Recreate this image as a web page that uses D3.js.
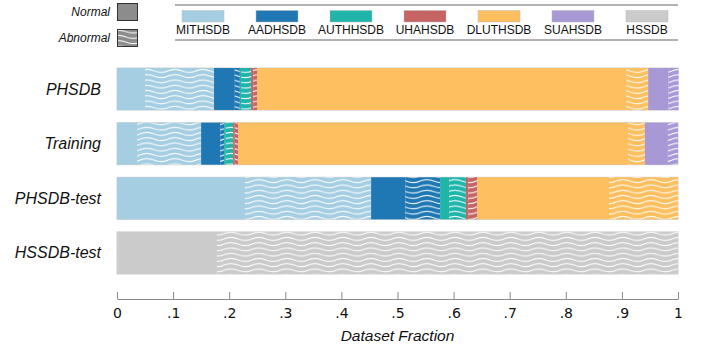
<!DOCTYPE html>
<html>
<head>
<meta charset="utf-8">
<script src="https://cdn.jsdelivr.net/npm/d3@7"></script>
<style>
  body { margin: 0; background: #fff; }
  svg { display: block; }
</style>
</head>
<body>
<div id="chart"></div>
<script>
// datasets (rows) and arrhythmia source classes (legend order)
const categories = ["PHSDB", "Training", "PHSDB-test", "HSSDB-test"];
const classes = ["MITHSDB", "AADHSDB", "AUTHHSDB", "UHAHSDB", "DLUTHSDB", "SUAHSDB", "HSSDB"];
const classColors = ["#a6cee3", "#1f78b4", "#1fb5a9", "#c66464", "#fdbf5f", "#a899d6", "#cbcbcb"];

// fraction of each row per class, split into normal / abnormal
const normalFrac = [
  [0.050, 0.037, 0.002, 0.004, 0.658, 0.036, 0],
  [0.036, 0.034, 0.003, 0.003, 0.695, 0.041, 0],
  [0.228, 0.061, 0.016, 0.004, 0.235, 0, 0],
  [0, 0, 0, 0, 0, 0, 0.178]
];
const abnormalFrac = [
  [0.123, 0.009, 0.018, 0.007, 0.039, 0.018, 0],
  [0.114, 0.007, 0.013, 0.006, 0.030, 0.018, 0],
  [0.225, 0.062, 0.030, 0.016, 0.123, 0, 0],
  [0, 0, 0, 0, 0, 0, 0.822]
];
const xTicks = [0, 0.1, 0.2, 0.3, 0.4, 0.5, 0.6, 0.7, 0.8, 0.9, 1];

const width = 709, height = 349;
const margin = {left: 117, right: 31, top: 68, bottom: 50};
const sans = "'Liberation Sans', Arial, sans-serif";

const svg = d3.select("#chart").append("svg")
  .attr("width", width)
  .attr("height", height)
  .attr("viewBox", [0, 0, width, height]);

const defs = svg.append("defs");
const waveW = 28, waveH = 5.25;
function wavePattern(id, fill) {
  const p = defs.append("pattern")
    .attr("id", id)
    .attr("patternUnits", "userSpaceOnUse")
    .attr("width", waveW)
    .attr("height", waveH);
  p.append("rect").attr("width", waveW).attr("height", waveH).attr("fill", fill);
  const y = waveH / 2, c = 2.0, h = waveW / 2;
  p.append("path")
    .attr("d", `M0,${y} C${h / 3},${y - c} ${2 * h / 3},${y - c} ${h},${y} S${waveW - h / 3},${y + c} ${waveW},${y}`)
    .attr("fill", "none")
    .attr("stroke", "#fff")
    .attr("stroke-width", 1.1)
    .attr("opacity", 0.95);
}
classColors.forEach((c, i) => wavePattern("wave" + i, c));
wavePattern("waveLegend", "#8c8c8c");

const x = d3.scaleLinear([0, 1], [margin.left, width - margin.right]);
const y = d3.scaleBand(categories, [margin.top, 274]).paddingInner(0.23).paddingOuter(0);

// build stacked segments: each class normal then abnormal
const segments = [];
categories.forEach((cat, r) => {
  let acc = 0;
  classes.forEach((cls, k) => {
    [[normalFrac[r][k], false], [abnormalFrac[r][k], true]].forEach(([v, ab]) => {
      if (v > 0) segments.push({cat, k, x0: acc, x1: acc + v, ab});
      acc += v;
    });
  });
});

svg.append("g")
  .selectAll("rect.bg")
  .data(categories)
  .join("rect")
  .attr("x", x(0) - 0.5)
  .attr("y", d => y(d) - 0.5)
  .attr("width", x(1) - x(0) + 1)
  .attr("height", y.bandwidth() + 1)
  .attr("fill", "#d0d0d0");

svg.append("g")
  .selectAll("rect")
  .data(segments)
  .join("rect")
  .attr("x", d => x(d.x0))
  .attr("y", d => y(d.cat))
  .attr("width", d => x(d.x1) - x(d.x0))
  .attr("height", y.bandwidth())
  .attr("fill", d => d.ab ? `url(#wave${d.k})` : classColors[d.k]);

// row labels
svg.append("g")
  .attr("font-family", sans)
  .attr("font-style", "italic")
  .attr("font-size", 16)
  .attr("text-anchor", "end")
  .selectAll("text")
  .data(categories)
  .join("text")
  .attr("x", 101)
  .attr("y", d => y(d) + y.bandwidth() / 2)
  .attr("dominant-baseline", "central")
  .attr("fill", "#111")
  .text(d => d);

// x axis
const axisY = 299;
const xAxis = d3.axisBottom(x)
  .tickValues(xTicks)
  .tickSize(0)
  .tickPadding(9)
  .tickFormat(d => d === 0 ? "0" : d === 1 ? "1" : d3.format(".1f")(d).replace(/^0/, ""));
svg.append("g")
  .attr("transform", `translate(0,${axisY})`)
  .call(xAxis)
  .call(g => g.select(".domain").attr("stroke", "#888").attr("stroke-width", 1.2))
  .call(g => g.selectAll(".tick").append("line")
    .attr("y2", -7).attr("stroke", "#888").attr("stroke-width", 1))
  .call(g => g.selectAll(".tick text")
    .attr("font-family", "'DejaVu Sans', sans-serif")
    .attr("font-size", 14)
    .attr("fill", "#111"));

svg.append("text")
  .attr("x", x(0.5))
  .attr("y", 341)
  .attr("text-anchor", "middle")
  .attr("font-family", sans)
  .attr("font-style", "italic")
  .attr("font-size", 15.5)
  .attr("fill", "#111")
  .text("Dataset Fraction");

// class legend
const lg = svg.append("g");
[5, 40].forEach(ly => lg.append("line")
  .attr("x1", 175).attr("x2", 678).attr("y1", ly).attr("y2", ly)
  .attr("stroke", "#999").attr("stroke-width", 1.5));
const legendX = d3.scalePoint(classes, [203, 647]);
const item = lg.selectAll("g.item")
  .data(classes)
  .join("g")
  .attr("transform", d => `translate(${legendX(d)},0)`);
item.append("rect")
  .attr("x", -21).attr("y", 10.5).attr("width", 42).attr("height", 11.5)
  .attr("fill", (d, i) => classColors[i])
  .attr("stroke", "#bbb").attr("stroke-width", 0.5);
item.append("text")
  .attr("y", 34)
  .attr("text-anchor", "middle")
  .attr("font-family", sans)
  .attr("font-size", 12)
  .attr("fill", "#111")
  .text(d => d);

// normal / abnormal key
const kinds = ["Normal", "Abnormal"];
const key = svg.append("g")
  .selectAll("g")
  .data(kinds)
  .join("g")
  .attr("transform", (d, i) => `translate(0,${3 + i * 26})`);
key.append("rect")
  .attr("x", 117.5).attr("y", 0.5).attr("width", 20).attr("height", 17)
  .attr("fill", (d, i) => i ? "url(#waveLegend)" : "#8c8c8c")
  .attr("stroke", "#333").attr("stroke-width", 1);
key.append("text")
  .attr("x", 110)
  .attr("y", 9)
  .attr("dominant-baseline", "central")
  .attr("text-anchor", "end")
  .attr("font-family", sans)
  .attr("font-style", "italic")
  .attr("font-size", 12)
  .attr("fill", "#111")
  .text(d => d);
</script>
</body>
</html>
